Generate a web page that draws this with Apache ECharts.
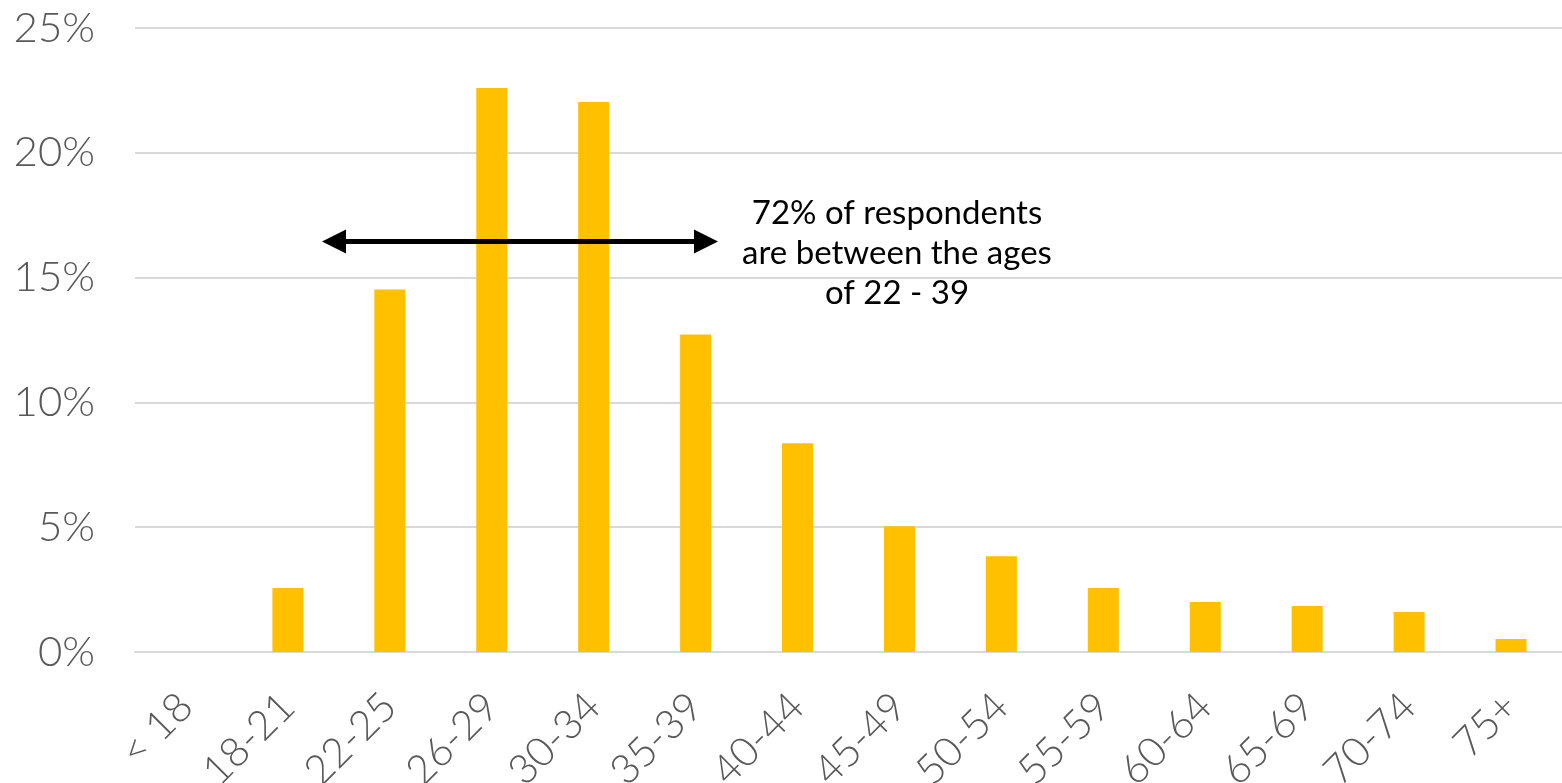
<!DOCTYPE html>
<html>
<head>
<meta charset="utf-8">
<script src="https://cdn.jsdelivr.net/npm/echarts@6/dist/echarts.min.js"></script>
<style>
  html, body { margin: 0; padding: 0; background: #fff; }
  #chart { width: 1562px; height: 783px; }
</style>
</head>
<body>
<div id="chart"></div>
<script>
// age groups and share of respondents (%)
const ageGroups = ['< 18', '18-21', '22-25', '26-29', '30-34', '35-39', '40-44',
  '45-49', '50-54', '55-59', '60-64', '65-69', '70-74', '75+'];
const shares = [0, 2.56, 14.52, 22.6, 22.04, 12.72, 8.36, 5.04, 3.84, 2.56, 2.0, 1.84, 1.6, 0.52];
const noteLines = ['72% of respondents', 'are between the ages', 'of 22 - 39'];

const chart = echarts.init(document.getElementById('chart'));

const option = {
  animation: false,
  grid: { left: 135, right: 0, top: 28, bottom: 131, containLabel: false, outerBoundsMode: 'none' },
  xAxis: {
    type: 'category',
    data: ageGroups,
    axisLine: { lineStyle: { color: '#d9d9d9', width: 2 } },
    axisTick: { show: false },
    axisLabel: {
      rotate: 45,
      margin: 48,
      fontSize: 41,
      fontFamily: 'Lato',
      fontWeight: 300,
      color: '#595959',
      interval: 0
    }
  },
  yAxis: {
    type: 'value',
    min: 0,
    max: 25,
    interval: 5,
    axisLine: { show: false },
    axisTick: { show: false },
    splitLine: { lineStyle: { color: '#d9d9d9', width: 2 } },
    axisLabel: {
      formatter: '{value}%',
      margin: 40,
      fontSize: 42,
      fontFamily: 'Lato',
      fontWeight: 300,
      color: '#595959'
    }
  },
  series: [{
    type: 'bar',
    data: shares,
    barWidth: 31,
    itemStyle: { color: '#FFC000' }
  }]
};
chart.setOption(option);

// annotation arrow spanning 22-25 .. 35-39 and its note
const yArrow = chart.convertToPixel({ yAxisIndex: 0 }, 16.45);
const x0 = 322, x1 = 718, head = 24, halfH = 12;
chart.setOption({
  graphic: [
    { type: 'line', shape: { x1: x0 + head - 2, y1: yArrow, x2: x1 - head + 2, y2: yArrow },
      style: { stroke: '#000', lineWidth: 5 }, z: 10 },
    { type: 'polygon', shape: { points: [[x0, yArrow], [x0 + head, yArrow - halfH], [x0 + head, yArrow + halfH]] },
      style: { fill: '#000' }, z: 10 },
    { type: 'polygon', shape: { points: [[x1, yArrow], [x1 - head, yArrow - halfH], [x1 - head, yArrow + halfH]] },
      style: { fill: '#000' }, z: 10 },
    { type: 'text', x: 897, y: 193, z: 10,
      style: { text: noteLines.join('\n'), fill: '#000', fontSize: 33, fontFamily: 'Lato',
        align: 'center', verticalAlign: 'top', lineHeight: 40 } }
  ]
});
</script>
</body>
</html>
